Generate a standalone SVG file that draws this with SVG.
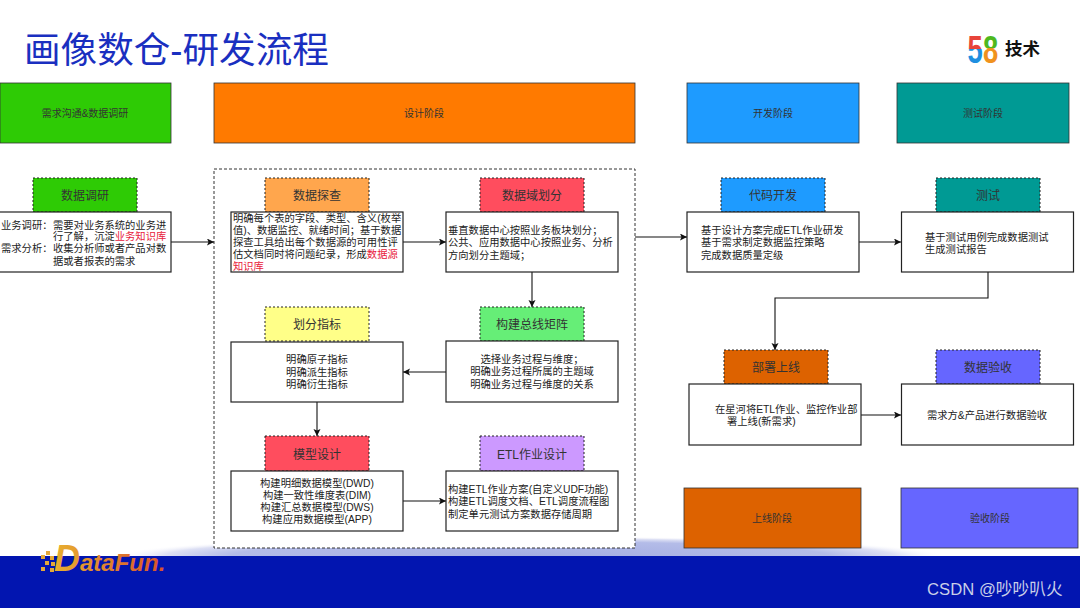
<svg xmlns="http://www.w3.org/2000/svg" width="1080" height="608" viewBox="0 0 1080 608">
<style>
text{font-family:"Liberation Sans","Noto Sans CJK SC",sans-serif;fill:#222}
.t{font-size:10.3px;text-anchor:middle}
.h{font-size:12px;text-anchor:middle;fill:#333}
.p{font-size:10px;text-anchor:middle;fill:#333}
.l{font-size:10.3px}
.r{fill:#e8203a}
.b{fill:#fff;stroke:#222;stroke-width:1.2}
.d{stroke:#222;stroke-width:1;stroke-dasharray:2 2}
.s{stroke:#333;stroke-width:.8}
.c{fill:none;stroke:#111;stroke-width:1.1;marker-end:url(#a)}
.q{fill:#e3a83a}
</style>
<defs>
<marker id="a" markerWidth="8" markerHeight="8" refX="7" refY="3.5" orient="auto" markerUnits="userSpaceOnUse"><path d="M0 0L7 3.5L0 7L1.5 3.5Z" fill="#111"/></marker>
<linearGradient id="g5" x1="0" y1="0" x2="0" y2="1"><stop offset=".5" stop-color="#e8443a"/><stop offset=".5" stop-color="#1f8fe0"/></linearGradient>
<linearGradient id="g8" x1="0" y1="0" x2="0" y2="1"><stop offset=".46" stop-color="#4fb81e"/><stop offset=".46" stop-color="#f0921e"/></linearGradient>
<linearGradient id="gd" x1="0" y1="0" x2="1" y2="0"><stop offset="0" stop-color="#e8b030"/><stop offset="1" stop-color="#d8502a"/></linearGradient>
<radialGradient id="glow" cx=".5" cy="1" r=".5"><stop offset="0" stop-color="#a4aee2"/><stop offset=".72" stop-color="#b4bce8"/><stop offset=".88" stop-color="#dde0f4"/><stop offset="1" stop-color="#fff" stop-opacity="0"/></radialGradient>
</defs>
<rect width="1080" height="608" fill="#fff"/>
<g id="footer">
<rect x="115" y="516" width="830" height="40" fill="url(#glow)"/>
<rect y="556" width="1080" height="52" fill="#0215b0"/>
<rect x="41" y="555" width="4" height="4" class="q"/><rect x="46" y="551" width="4" height="4" class="q"/><rect x="50" y="556" width="4" height="4" class="q"/><rect x="45" y="561" width="4" height="4" class="q"/><rect x="51" y="562" width="4" height="4" class="q"/><rect x="41" y="567" width="4" height="4" class="q"/><rect x="50" y="568" width="4" height="4" class="q"/>
<text x="54" y="571" font-size="24" font-weight="700" font-style="italic" style="fill:url(#gd)"><tspan font-size="36">D</tspan>ataFun.</text>
<text x="927" y="595" font-size="16.7" style="fill:#c9cfe8">CSDN @吵吵叭火</text>
</g>
<g id="title"><text x="24" y="63" font-size="36.6" style="fill:#1a2fc0">画像数仓-研发流程</text></g>
<g id="logo">
<text transform="translate(967.5 62.5) scale(.72 1)" font-size="38" font-weight="700" style="fill:url(#g5)">5</text>
<text transform="translate(983 62.5) scale(.72 1)" font-size="38" font-weight="700" style="fill:url(#g8)">8</text>
<text x="1005" y="55" font-size="17.5" font-weight="700" style="fill:#111">技术</text>
</g>
<g id="stage-research"><rect y="83" width="171" height="60" fill="#2ecb05" class="s"/><text class="p" x="85" y="117">需求沟通&amp;数据调研</text></g>
<g id="stage-design"><rect x="214" y="83" width="421" height="60" fill="#ff7a00" class="s"/><text class="p" x="424" y="117">设计阶段</text></g>
<g id="stage-dev"><rect x="687" y="83" width="172" height="60" fill="#1e9bff" class="s"/><text class="p" x="773" y="117">开发阶段</text></g>
<g id="stage-test"><rect x="897" y="83" width="172" height="60" fill="#009a94" class="s"/><text class="p" x="983" y="117">测试阶段</text></g>
<g id="stage-release"><rect x="684" y="488" width="177" height="60" fill="#dd6200" class="s"/><text class="p" x="772" y="522">上线阶段</text></g>
<g id="stage-accept"><rect x="901" y="488" width="177" height="60" fill="#6666ff" class="s"/><text class="p" x="990" y="522">验收阶段</text></g>
<rect id="design-frame" x="214" y="169" width="421" height="379" fill="#fff" stroke="#333" stroke-dasharray="3 2"/>
<g id="connectors">
<path class="c" d="M171 242H214"/>
<path class="c" d="M403 242H446"/>
<path class="c" d="M532 272V307"/>
<path class="c" d="M446 372H403"/>
<path class="c" d="M317 402V436"/>
<path class="c" d="M403 501H446"/>
<path class="c" d="M635 237H687"/>
<path class="c" d="M859 242H901"/>
<path class="c" d="M988 272V298H775V350"/>
<path class="c" d="M861 415H901"/>
</g>
<g id="n1"><rect x="33" y="178" width="104" height="34" fill="#2ecb05" class="d"/><text class="h" x="85" y="200">数据调研</text>
<rect x="-1" y="212" width="172" height="60" class="b"/>
<text class="l" x="1" y="229">业务调研：</text><text class="l" x="53" y="229">需要对业务系统的业务进</text>
<text class="l" x="53" y="240">行了解，沉淀<tspan class="r">业务知识库</tspan></text>
<text class="l" x="1" y="252">需求分析：</text><text class="l" x="53" y="252">收集分析师或者产品对数</text>
<text class="l" x="53" y="265">据或者报表的需求</text></g>
<g id="n2"><rect x="265" y="178" width="104" height="34" fill="#ffa64d" class="d"/><text class="h" x="317" y="200">数据探查</text>
<rect x="231" y="212" width="172" height="60" class="b"/>
<text class="l" x="233" y="222">明确每个表的字段、类型、含义(枚举</text>
<text class="l" x="233" y="234">值)、数据监控、就绪时间；基于数据</text>
<text class="l" x="233" y="246">探查工具给出每个数据源的可用性评</text>
<text class="l" x="233" y="258">估文档同时将问题纪录，形成<tspan class="r">数据源</tspan></text>
<text class="l r" x="233" y="270">知识库</text></g>
<g id="n3"><rect x="480" y="178" width="104" height="34" fill="#ff4d5e" class="d"/><text class="h" x="532" y="200">数据域划分</text>
<rect x="446" y="212" width="172" height="60" class="b"/>
<text class="l" x="448" y="234">垂直数据中心按照业务板块划分；</text>
<text class="l" x="448" y="246">公共、应用数据中心按照业务、分析</text>
<text class="l" x="448" y="259">方向划分主题域；</text></g>
<g id="n4"><rect x="480" y="307" width="104" height="34" fill="#66ee77" class="d"/><text class="h" x="532" y="329">构建总线矩阵</text>
<rect x="446" y="341" width="172" height="61" class="b"/>
<text class="t" x="532" y="363">选择业务过程与维度；</text>
<text class="t" x="532" y="375">明确业务过程所属的主题域</text>
<text class="t" x="532" y="388">明确业务过程与维度的关系</text></g>
<g id="n5"><rect x="265" y="307" width="104" height="34" fill="#ffff88" class="d"/><text class="h" x="317" y="329">划分指标</text>
<rect x="231" y="342" width="172" height="60" class="b"/>
<text class="t" x="317" y="363">明确原子指标</text>
<text class="t" x="317" y="376">明确派生指标</text>
<text class="t" x="317" y="388">明确衍生指标</text></g>
<g id="n6"><rect x="265" y="436" width="104" height="35" fill="#ff4d5e" class="d"/><text class="h" x="317" y="459">模型设计</text>
<rect x="231" y="471" width="172" height="60" class="b"/>
<text class="t" x="317" y="487">构建明细数据模型(DWD)</text>
<text class="t" x="317" y="499">构建一致性维度表(DIM)</text>
<text class="t" x="317" y="511">构建汇总数据模型(DWS)</text>
<text class="t" x="317" y="523">构建应用数据模型(APP)</text></g>
<g id="n7"><rect x="480" y="436" width="104" height="35" fill="#cc99ff" class="d"/><text class="h" x="532" y="459">ETL作业设计</text>
<rect x="446" y="471" width="172" height="60" class="b"/>
<text class="l" x="448" y="493">构建ETL作业方案(自定义UDF功能)</text>
<text class="l" x="448" y="505">构建ETL调度文档、ETL调度流程图</text>
<text class="l" x="448" y="518">制定单元测试方案数据存储周期</text></g>
<g id="n8"><rect x="721" y="178" width="104" height="34" fill="#1e9bff" class="d"/><text class="h" x="773" y="200">代码开发</text>
<rect x="687" y="212" width="172" height="60" class="b"/>
<text class="l" x="701" y="234">基于设计方案完成ETL作业研发</text>
<text class="l" x="701" y="246">基于需求制定数据监控策略</text>
<text class="l" x="701" y="259">完成数据质量定级</text></g>
<g id="n9"><rect x="936" y="178" width="104" height="34" fill="#009a94" class="d"/><text class="h" x="988" y="200">测试</text>
<rect x="901.5" y="212" width="172" height="60" class="b"/>
<text class="l" x="925" y="241">基于测试用例完成数据测试</text>
<text class="l" x="925" y="253">生成测试报告</text></g>
<g id="n10"><rect x="724" y="350" width="104" height="34" fill="#dd6200" class="d"/><text class="h" x="776" y="372">部署上线</text>
<rect x="689" y="384" width="172" height="61" class="b"/>
<text class="l" x="715" y="413">在星河将ETL作业、监控作业部</text>
<text class="l" x="727" y="425">署上线(新需求)</text></g>
<g id="n11"><rect x="936" y="350" width="104" height="34" fill="#6666ff" class="d"/><text class="h" x="988" y="372">数据验收</text>
<rect x="901.5" y="384" width="172" height="61" class="b"/>
<text class="t" x="987" y="419">需求方&amp;产品进行数据验收</text></g>
</svg>
